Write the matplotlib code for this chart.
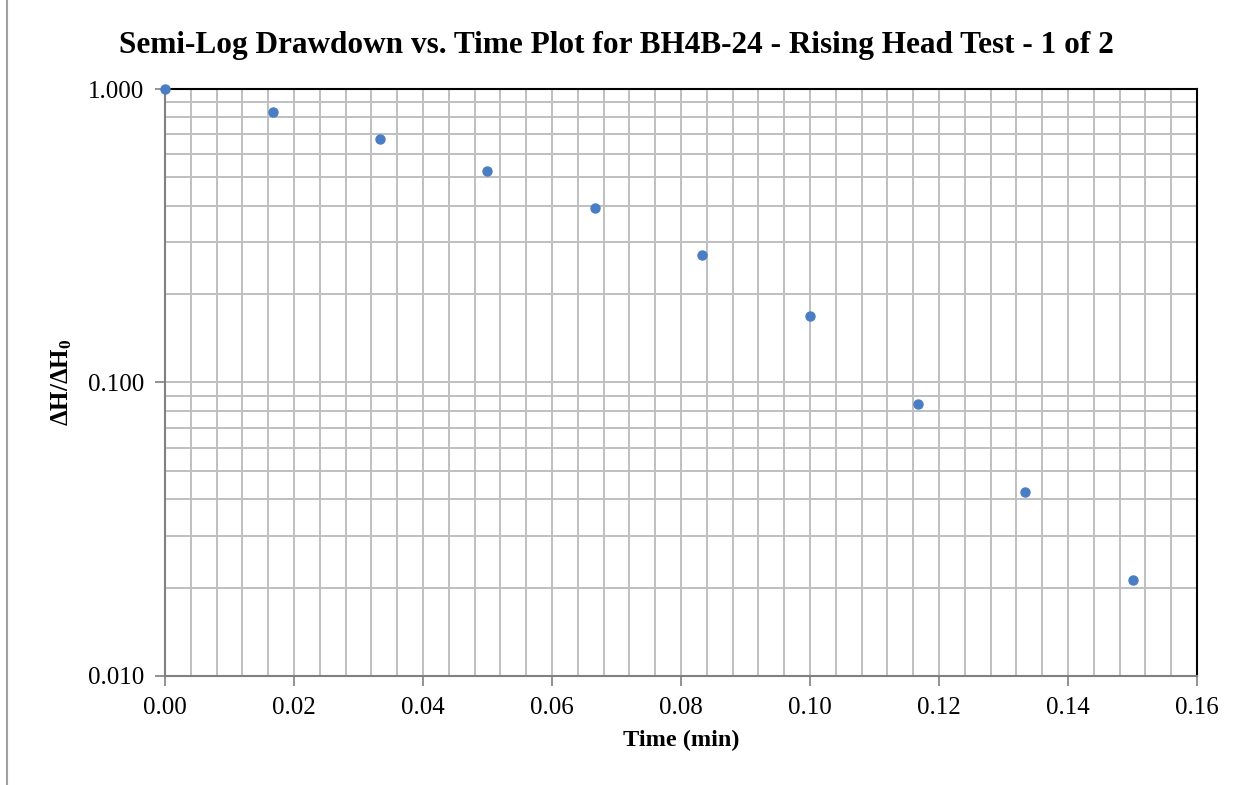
import numpy as np
import matplotlib.pyplot as plt
from matplotlib.ticker import MultipleLocator, LogLocator, FormatStrFormatter, NullFormatter
from matplotlib.lines import Line2D

# data
time_min = [0.0, 0.0167, 0.0333, 0.05, 0.0667, 0.0833, 0.1, 0.1167, 0.1333, 0.15]
head_ratio = [1.0, 0.835, 0.676, 0.526, 0.393, 0.272, 0.169, 0.0845, 0.0424, 0.0212]

plt.rcParams['font.family'] = ['Liberation Serif', 'DejaVu Serif']
plt.rcParams['mathtext.fontset'] = 'custom'
plt.rcParams['mathtext.rm'] = 'Liberation Serif'
plt.rcParams['mathtext.bf'] = 'Liberation Serif:bold'

fig = plt.figure(figsize=(12.46, 7.85), dpi=100)
ax = fig.add_axes([0.1324, 0.1389, 0.8283, 0.7477])

ax.plot(time_min, head_ratio, 'o', color='#4a7ec4', markersize=6.5, clip_on=False, zorder=5)

ax.set_yscale('log')
ax.set_xlim(0, 0.16)
ax.set_ylim(0.01, 1.0)

ax.xaxis.set_major_locator(MultipleLocator(0.02))
ax.xaxis.set_minor_locator(MultipleLocator(0.004))
ax.xaxis.set_major_formatter(FormatStrFormatter('%.2f'))
ax.yaxis.set_major_locator(LogLocator(base=10))
ax.yaxis.set_minor_locator(LogLocator(base=10, subs=np.arange(2, 10)))
ax.yaxis.set_major_formatter(FormatStrFormatter('%.3f'))
ax.yaxis.set_minor_formatter(NullFormatter())

ax.grid(True, which='both', color='#bfbfbf', linewidth=1.4)
ax.set_axisbelow(True)

ax.tick_params(which='major', direction='out', length=7, width=1.2, color='#808080',
               labelsize=18, pad=8)
ax.tick_params(which='minor', length=0)

for side in ['left', 'bottom']:
    ax.spines[side].set_color('#808080')
    ax.spines[side].set_linewidth(1.5)
for side in ['top', 'right']:
    ax.spines[side].set_color('black')
    ax.spines[side].set_linewidth(1.5)

fig.text(0.495, 0.942, 'Semi-Log Drawdown vs. Time Plot for BH4B-24 - Rising Head Test - 1 of 2',
         fontsize=22.5, fontweight='bold', ha='center', va='center')
ax.set_xlabel('Time (min)', fontsize=17.5, fontweight='bold', labelpad=8)
ax.set_ylabel(r'$\mathbf{\Delta H/\Delta H_0}$', fontsize=18, labelpad=10)

# outer chart border (left edge visible)
fig.add_artist(Line2D([0.006, 0.006], [0.0, 1.0], color='#a0a0a0', linewidth=1.5))

fig.savefig('out.png', dpi=100)
